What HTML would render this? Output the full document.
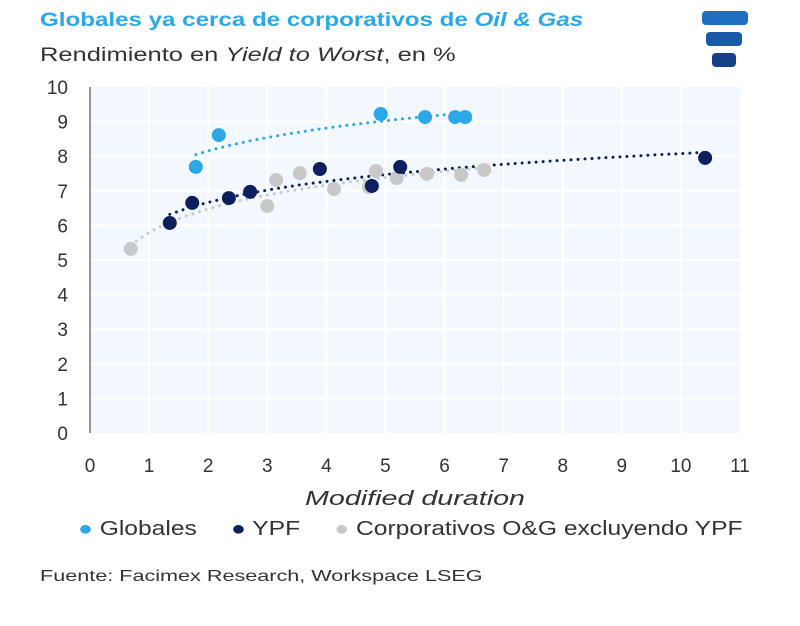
<!DOCTYPE html>
<html><head><meta charset="utf-8"><style>
body{margin:0;width:800px;height:626px;background:#fff;font-family:"Liberation Sans",sans-serif;overflow:hidden;position:relative}
.t{position:absolute;white-space:nowrap;transform-origin:0 0}
</style></head><body>
<div class="t" style="left:40px;top:10px;font-size:19px;font-weight:bold;color:#2aa8e8;transform:scaleX(1.27)">Globales ya cerca de corporativos de <i>Oil &amp; Gas</i></div>
<div class="t" style="left:40px;top:45px;font-size:19px;color:#333;transform:scaleX(1.34)">Rendimiento en <i>Yield to Worst</i>, en %</div>
<svg style="position:absolute;left:700px;top:8px" width="60" height="64" viewBox="0 0 60 64">
<rect x="2" y="3" width="46" height="14" rx="4" fill="#1f6fc0"/>
<rect x="6" y="24" width="36" height="14" rx="4" fill="#1a5aa8"/>
<rect x="12" y="45" width="24" height="14" rx="4" fill="#153f86"/>
</svg>
<svg id="c" style="position:absolute;left:0;top:0" width="800" height="626"></svg>
<div class="t" style="left:78px;top:518px;font-size:20px;color:#333;transform:scaleX(1.23)">
<span><span style="color:#2aa8e8">●</span> Globales</span>&nbsp;&nbsp;&nbsp;&nbsp;
<span><span style="color:#0d1f5c">●</span> YPF</span>&nbsp;&nbsp;&nbsp;&nbsp;
<span><span style="color:#c8c8c8">●</span> Corporativos O&amp;G excluyendo YPF</span></div>
<div class="t" style="left:40px;top:568px;font-size:16px;color:#333;transform:scaleX(1.35)">Fuente: Facimex Research, Workspace LSEG</div>
<script>
const globX=[1.79,2.18,4.92,5.67,6.18,6.35];
const globY=[7.69,8.61,9.22,9.13,9.13,9.13];
const ypfX=[1.35,1.73,2.35,2.71,3.89,4.77,5.25,10.41];
const ypfY=[6.07,6.65,6.79,6.97,7.63,7.14,7.69,7.95];
const corpX=[0.69,3.0,3.15,3.55,4.13,4.72,4.84,5.19,5.70,6.28,6.67];
const corpY=[5.32,6.56,7.31,7.51,7.05,7.11,7.57,7.37,7.49,7.46,7.6];
const xTicks=[0,1,2,3,4,5,6,7,8,9,10,11];
const yTicks=[0,1,2,3,4,5,6,7,8,9,10];
const NS="http://www.w3.org/2000/svg",svg=document.getElementById('c');
const X0=90,X1=740,Y0=433,Y1=87;
const sx=v=>X0+v*(X1-X0)/11, sy=v=>Y0-v*(Y0-Y1)/10;
function mk(t,a){const e=document.createElementNS(NS,t);for(const k in a)e.setAttribute(k,a[k]);svg.appendChild(e);return e;}
let bg=mk('rect',{x:X0,y:Y1,width:X1-X0,height:Y0-Y1,fill:'#f2f8fd'});


for(let v=1;v<11;v++){let l=mk('line',{x1:sx(v),x2:sx(v),y1:Y1,y2:Y0,stroke:'#fff','stroke-width':2});}
for(let v=1;v<10;v++){let l=mk('line',{x1:X0,x2:X1,y1:sy(v),y2:sy(v),stroke:'#fff','stroke-width':2});}
let ax=mk('line',{x1:X0,x2:X0,y1:Y1,y2:Y0,stroke:'#777','stroke-width':1.5});
xTicks.forEach(v=>{let t=mk('text',{x:sx(v),y:472,'text-anchor':'middle','font-size':19,fill:'#333','font-family':'Liberation Sans'});t.textContent=v;});
yTicks.forEach(v=>{let t=mk('text',{x:68,y:sy(v)+7,'text-anchor':'end','font-size':19,fill:'#333','font-family':'Liberation Sans'});t.textContent=v;});
let xt=mk('text',{x:415,y:505,'text-anchor':'middle','font-size':20,fill:'#333','font-style':'italic','font-family':'Liberation Sans',textLength:220,lengthAdjust:'spacingAndGlyphs'});xt.textContent='Modified duration';
function trend(xs,ys,col,name){const n=xs.length,L=xs.map(Math.log);const mx=L.reduce((a,b)=>a+b)/n,my=ys.reduce((a,b)=>a+b)/n;let num=0,den=0;L.forEach((l,i)=>{num+=(l-mx)*(ys[i]-my);den+=(l-mx)**2});const b=num/den,a=my-b*mx;const lo=Math.min(...xs),hi=Math.max(...xs);let d='';for(let i=0;i<=60;i++){const x=lo+(hi-lo)*i/60;d+=(i?'L':'M')+sx(x).toFixed(1)+' '+sy(a+b*Math.log(x)).toFixed(1);}
let p=mk('path',{d:d,fill:'none',stroke:col,'stroke-width':3,'stroke-dasharray':'0 7','stroke-linecap':'round'});}
function pts(xs,ys,col,name){xs.forEach((x,i)=>{let c=mk('circle',{cx:sx(x),cy:sy(ys[i]),r:7,fill:col});});}
trend(corpX,corpY,'#c8c8c8','trend-corporativos');
trend(ypfX,ypfY,'#0d1f5c','trend-ypf');
trend(globX,globY,'#2aa8e8','trend-globales');
pts(corpX,corpY,'#c8c8c8','point-corporativos');
pts(ypfX,ypfY,'#0d1f5c','point-ypf');
pts(globX,globY,'#2aa8e8','point-globales');
</script>
</body></html>
